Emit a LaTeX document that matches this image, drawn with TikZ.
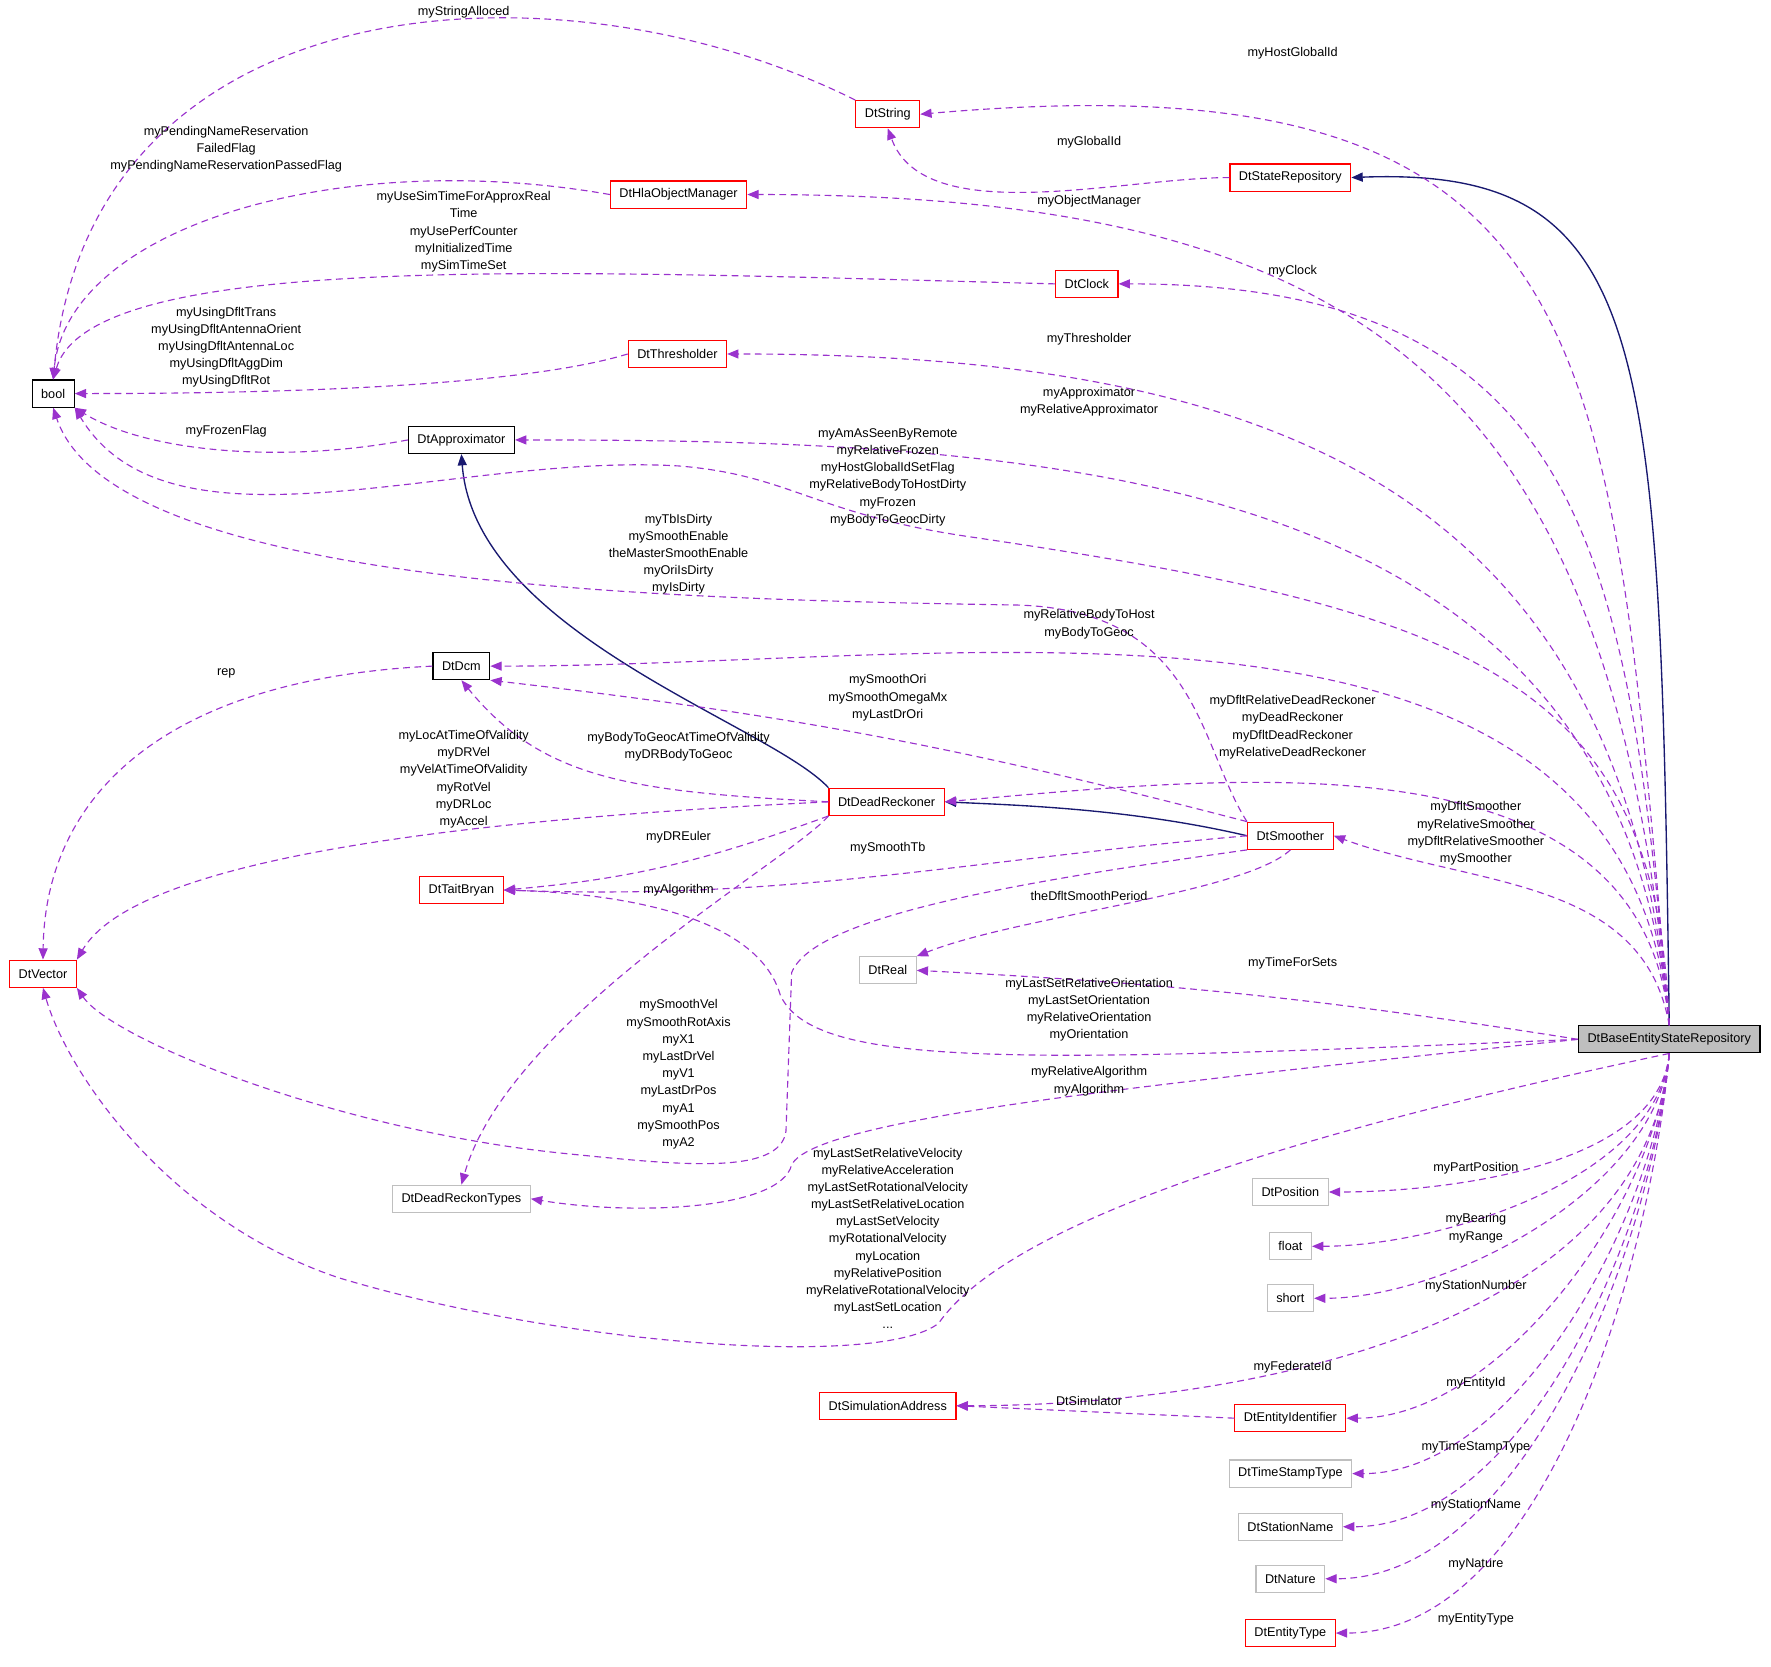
\documentclass[tikz,border=0pt]{standalone}
\usepackage{fontspec}
\setmainfont{Liberation Sans}
\definecolor{edgepurple}{HTML}{9A32CD}
\definecolor{edgenavy}{HTML}{191970}
\definecolor{boxgray}{HTML}{BFBFBF}
\usetikzlibrary{arrows.meta, positioning}
\tikzset{
  classbox/.style={rectangle, draw=#1, fill=white, minimum height=12pt, inner xsep=4pt, inner ysep=1pt, font=\fontsize{5.6}{6.6}\selectfont, line width=0.5pt},
  usage/.style={draw=edgepurple, dashed, dash pattern=on 3pt off 2pt, line width=0.5pt, -{Triangle[length=5pt,width=4pt,fill=edgepurple]}},
  derive/.style={draw=edgenavy, line width=0.6pt, -{Triangle[length=5pt,width=4pt,fill=edgenavy]}},
  edgelabel/.style={align=center, font=\fontsize{5.6}{7.6}\selectfont, inner sep=0pt},
}
\begin{document}
\begin{tikzpicture}[x=0.5pt, y=-0.5pt]
\useasboundingbox (0,0) rectangle (1566,1474);
% classes
\node[classbox=black] (bool) at (47,348) {bool};
\node[classbox=red] (DtString) at (785,101) {DtString};
\node[classbox=red] (DtStateRepository) at (1141,157) {DtStateRepository};
\node[classbox=red] (DtHlaObjectManager) at (600,172) {DtHlaObjectManager};
\node[classbox=red] (DtClock) at (961,251) {DtClock};
\node[classbox=red] (DtThresholder) at (599,313) {DtThresholder};
\node[classbox=black] (DtApproximator) at (408,389) {DtApproximator};
\node[classbox=black] (DtDcm) at (408,589) {DtDcm};
\node[classbox=red] (DtDeadReckoner) at (784,709) {DtDeadReckoner};
\node[classbox=red] (DtSmoother) at (1141,739) {DtSmoother};
\node[classbox=red] (DtTaitBryan) at (408,787) {DtTaitBryan};
\node[classbox=red] (DtVector) at (38,861) {DtVector};
\node[classbox=boxgray] (DtReal) at (785,858) {DtReal};
\node[classbox=black, fill=boxgray] (base) at (1476,919) {DtBaseEntityStateRepository};
\node[classbox=boxgray] (DtDeadReckonTypes) at (408,1060) {DtDeadReckonTypes};
\node[classbox=boxgray] (DtPosition) at (1141,1054) {DtPosition};
\node[classbox=boxgray] (float) at (1141,1102) {float};
\node[classbox=boxgray] (short) at (1141,1148) {short};
\node[classbox=red] (DtSimulationAddress) at (785,1243) {DtSimulationAddress};
\node[classbox=red] (DtEntityIdentifier) at (1141,1254) {DtEntityIdentifier};
\node[classbox=boxgray] (DtTimeStampType) at (1141,1303) {DtTimeStampType};
\node[classbox=boxgray] (DtStationName) at (1141,1350) {DtStationName};
\node[classbox=boxgray] (DtNature) at (1141,1396) {DtNature};
\node[classbox=red] (DtEntityType) at (1141,1444) {DtEntityType};

% inheritance
\draw[derive] (base.north) .. controls (1468,300) and (1460,147) .. (DtStateRepository.east);
\draw[derive] (DtDeadReckoner.north west) .. controls (680,640) and (420,560) .. (DtApproximator.south);
\draw[derive] (DtSmoother.west) .. controls (1000,715) and (900,712) .. (DtDeadReckoner.east);

% members of DtBaseEntityStateRepository
\draw[usage] (base.north) to[out=95, in=5, looseness=1.5] (DtString.east);
\draw[usage] (base.north) to[out=95, in=0, looseness=1.3] (DtHlaObjectManager.east);
\draw[usage] (base.north) to[out=95, in=0, looseness=1.3] (DtClock.east);
\draw[usage] (base.north) to[out=95, in=0, looseness=1.2] (DtThresholder.east);
\draw[usage] (base.north) to[out=95, in=0, looseness=1.1] (DtApproximator.east);
\draw[usage] (base.north) .. controls (1465,600) and (1300,540) .. (860,475) .. controls (720,455) and (700,420) .. (600,412) .. controls (400,400) and (150,500) .. (bool.south east);
\draw[usage] (base.north) to[out=95, in=0, looseness=1] (DtDcm.east);
\draw[usage] (base.north) to[out=95, in=5, looseness=1] (DtDeadReckoner.east);
\draw[usage] (base.north) to[out=100, in=-20, looseness=1] (DtSmoother.east);
\draw[usage] (base.west) to[bend right=3] (DtReal.east);
\draw[usage] (base.west) .. controls (900,940) and (720,945) .. (690,880) .. controls (670,810) and (550,790) .. (DtTaitBryan.east);
\draw[usage] (base.west) .. controls (1000,960) and (720,990) .. (700,1030) .. controls (690,1070) and (560,1075) .. (DtDeadReckonTypes.east);
\draw[usage] (base.south) .. controls (1200,990) and (900,1070) .. (830,1170) .. controls (780,1210) and (500,1190) .. (300,1130) .. controls (150,1080) and (60,950) .. (DtVector.south);
\draw[usage] (base.south) to[out=-95, in=0, looseness=0.8] (DtPosition.east);
\draw[usage] (base.south) to[out=-95, in=0, looseness=0.8] (float.east);
\draw[usage] (base.south) to[out=-95, in=0, looseness=0.8] (short.east);
\draw[usage] (base.south) to[out=-95, in=0, looseness=0.9] (DtSimulationAddress.east);
\draw[usage] (base.south) to[out=-95, in=0, looseness=0.8] (DtEntityIdentifier.east);
\draw[usage] (base.south) to[out=-95, in=0, looseness=0.8] (DtTimeStampType.east);
\draw[usage] (base.south) to[out=-95, in=0, looseness=0.8] (DtStationName.east);
\draw[usage] (base.south) to[out=-95, in=0, looseness=0.8] (DtNature.east);
\draw[usage] (base.south) to[out=-95, in=0, looseness=0.8] (DtEntityType.east);

% other members
\draw[usage] (DtString.north west) .. controls (500,-40) and (80,-20) .. (bool.north);
\draw[usage] (DtStateRepository.west) to[out=180, in=-70, looseness=0.8] (DtString.south);
\draw[usage] (DtHlaObjectManager.west) .. controls (300,130) and (60,200) .. (bool.north);
\draw[usage] (DtClock.west) .. controls (500,240) and (80,220) .. (bool.north);
\draw[usage] (DtThresholder.west) .. controls (450,345) and (200,348) .. (bool.east);
\draw[usage] (DtApproximator.west) .. controls (250,410) and (130,400) .. (bool.south east);
\draw[usage] (DtSmoother.north west) .. controls (1060,660) and (1060,540) .. (900,535) .. controls (600,530) and (100,520) .. (bool.south);
\draw[usage] (DtSmoother.north west) to[bend right=4] (DtDcm.south east);
\draw[usage] (DtDeadReckoner.west) .. controls (560,700) and (480,690) .. (DtDcm.south);
\draw[usage] (DtDcm.west) .. controls (150,600) and (40,700) .. (DtVector.north);
\draw[usage] (DtDeadReckoner.west) .. controls (400,725) and (120,760) .. (DtVector.north east);
\draw[usage] (DtDeadReckoner.south west) to[out=-160, in=5] (DtTaitBryan.east);
\draw[usage] (DtSmoother.west) to[out=185, in=-2] (DtTaitBryan.east);
\draw[usage] (DtDeadReckoner.south west) .. controls (700,760) and (450,900) .. (DtDeadReckonTypes.north);
\draw[usage] (DtSmoother.south west) .. controls (900,780) and (720,810) .. (700,860) -- (695,1000) .. controls (690,1040) and (600,1030) .. (500,1020) .. controls (300,1000) and (100,920) .. (DtVector.south east);
\draw[usage] (DtSmoother.south) .. controls (1100,790) and (900,810) .. (DtReal.north east);
\draw[usage] (DtEntityIdentifier.west) -- (DtSimulationAddress.east);

% labels
\node[edgelabel] (lHostGlobalId) at (1143,47) {myHostGlobalId};
\node[edgelabel] (lObjectManager) at (963,178) {myObjectManager};
\node[edgelabel] (lClock) at (1143,240) {myClock};
\node[edgelabel] (lThresholder) at (963,300) {myThresholder};
\node[edgelabel] (lApproximator) at (963,355) {myApproximator\\myRelativeApproximator};
\node[edgelabel] (lBaseBool) at (785,422) {myAmAsSeenByRemote\\myRelativeFrozen\\myHostGlobalIdSetFlag\\myRelativeBodyToHostDirty\\myFrozen\\myBodyToGeocDirty};
\node[edgelabel] (lBaseDcm) at (963,552) {myRelativeBodyToHost\\myBodyToGeoc};
\node[edgelabel] (lBaseDR) at (1143,643) {myDfltRelativeDeadReckoner\\myDeadReckoner\\myDfltDeadReckoner\\myRelativeDeadReckoner};
\node[edgelabel] (lBaseSmoother) at (1305,737) {myDfltSmoother\\myRelativeSmoother\\myDfltRelativeSmoother\\mySmoother};
\node[edgelabel] (lTimeForSets) at (1143,852) {myTimeForSets};
\node[edgelabel] (lOrientation) at (963,893) {myLastSetRelativeOrientation\\myLastSetOrientation\\myRelativeOrientation\\myOrientation};
\node[edgelabel] (lAlgorithm) at (963,956) {myRelativeAlgorithm\\myAlgorithm};
\node[edgelabel] (lBaseVector) at (785,1095) {myLastSetRelativeVelocity\\myRelativeAcceleration\\myLastSetRotationalVelocity\\myLastSetRelativeLocation\\myLastSetVelocity\\myRotationalVelocity\\myLocation\\myRelativePosition\\myRelativeRotationalVelocity\\myLastSetLocation\\...};
\node[edgelabel] (lPartPosition) at (1305,1033) {myPartPosition};
\node[edgelabel] (lBearing) at (1305,1086) {myBearing\\myRange};
\node[edgelabel] (lStationNumber) at (1305,1137) {myStationNumber};
\node[edgelabel] (lFederateId) at (1143,1209) {myFederateId};
\node[edgelabel] (lEntityId) at (1305,1223) {myEntityId};
\node[edgelabel] (lTimeStampType) at (1305,1280) {myTimeStampType};
\node[edgelabel] (lStationName) at (1305,1331) {myStationName};
\node[edgelabel] (lNature) at (1305,1383) {myNature};
\node[edgelabel] (lEntityType) at (1305,1432) {myEntityType};
\node[edgelabel] (lStringAlloced) at (410,11) {myStringAlloced};
\node[edgelabel] (lGlobalId) at (963,126) {myGlobalId};
\node[edgelabel] (lPending) at (200,132) {myPendingNameReservation\\FailedFlag\\myPendingNameReservationPassedFlag};
\node[edgelabel] (lSimTime) at (410,205) {myUseSimTimeForApproxReal\\Time\\myUsePerfCounter\\myInitializedTime\\mySimTimeSet};
\node[edgelabel] (lUsingDflt) at (200,307) {myUsingDfltTrans\\myUsingDfltAntennaOrient\\myUsingDfltAntennaLoc\\myUsingDfltAggDim\\myUsingDfltRot};
\node[edgelabel] (lFrozenFlag) at (200,381) {myFrozenFlag};
\node[edgelabel] (lSmootherBool) at (600,490) {myTbIsDirty\\mySmoothEnable\\theMasterSmoothEnable\\myOriIsDirty\\myIsDirty};
\node[edgelabel] (lSmootherDcm) at (785,617) {mySmoothOri\\mySmoothOmegaMx\\myLastDrOri};
\node[edgelabel] (lDRDcm) at (600,660) {myBodyToGeocAtTimeOfValidity\\myDRBodyToGeoc};
\node[edgelabel] (lRep) at (200,595) {rep};
\node[edgelabel] (lDRVector) at (410,689) {myLocAtTimeOfValidity\\myDRVel\\myVelAtTimeOfValidity\\myRotVel\\myDRLoc\\myAccel};
\node[edgelabel] (lDREuler) at (600,740) {myDREuler};
\node[edgelabel] (lSmoothTb) at (785,750) {mySmoothTb};
\node[edgelabel] (lDRAlgorithm) at (600,787) {myAlgorithm};
\node[edgelabel] (lSmootherVector) at (600,950) {mySmoothVel\\mySmoothRotAxis\\myX1\\myLastDrVel\\myV1\\myLastDrPos\\myA1\\mySmoothPos\\myA2};
\node[edgelabel] (lSmoothPeriod) at (963,792) {theDfltSmoothPeriod};
\node[edgelabel] (lSimulator) at (963,1239) {DtSimulator};
\end{tikzpicture}
\end{document}
